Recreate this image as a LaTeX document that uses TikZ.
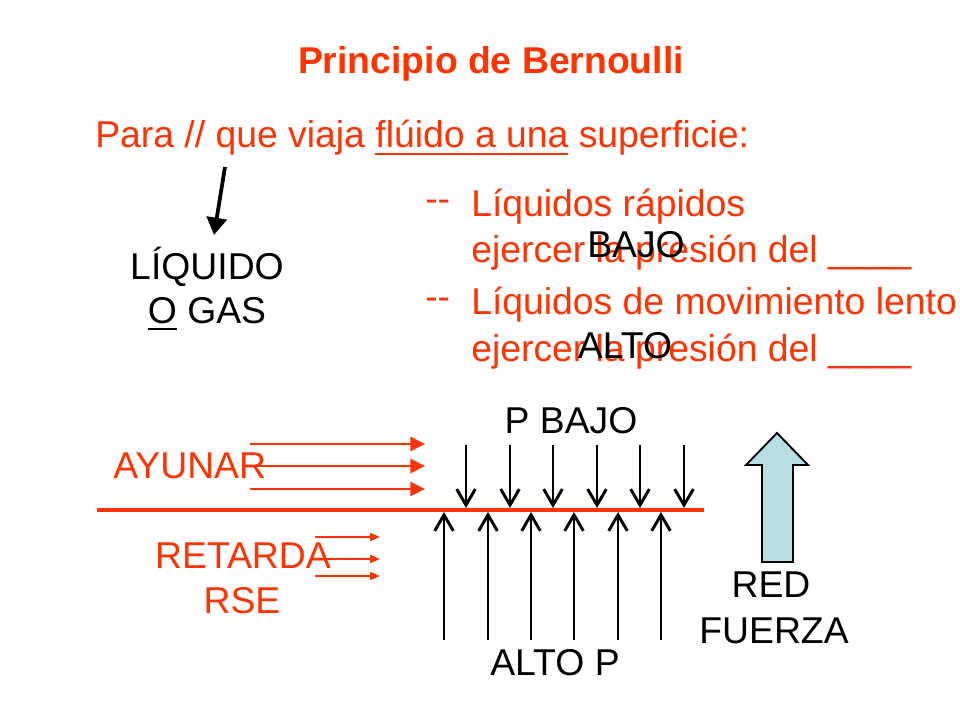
\documentclass[tikz,border=0pt]{standalone}
\usepackage{fontspec}
\setmainfont{Liberation Sans}
\usetikzlibrary{arrows.meta}
\definecolor{pptred}{RGB}{255,51,0}
\definecolor{arrowblue}{RGB}{183,222,226}
\newcommand\ulbar[1]{\setbox0\hbox{#1}\rlap{\rule[-0.2em]{\wd0}{0.07em}}#1}
\begin{document}
\begin{tikzpicture}[x=0.75pt,y=-0.75pt,
  txt/.style={inner sep=0pt, font=\fontsize{28}{33}\selectfont},
  redtxt/.style={txt, text=pptred},
  blktxt/.style={txt, text=black},
  flow/.style={draw=pptred, line width=2.1pt, -{Triangle[length=11pt,width=10.5pt,fill=pptred]}},
  smallflow/.style={draw=pptred, line width=1.4pt, -{Triangle[length=7.5pt,width=6pt,fill=pptred]}},
  press/.style={draw=black, line width=2.2pt, -{Straight Barb[length=12pt,width=14pt]}},
  pointer/.style={draw=black, line width=2.8pt, -{Triangle[length=13pt,width=15pt]}},
  bigarrow/.style={draw=black, line width=1.4pt, fill=arrowblue, line join=miter},
]
\useasboundingbox[fill=white] (0,0) rectangle (960,720);

% title and heading
\node[redtxt, font=\bfseries\fontsize{28}{33}\selectfont, anchor=base] (title) at (491,74) {Principio de Bernoulli};
\node[redtxt, anchor=base west] (head) at (95,148) {Para // que viaja \ulbar{flúido a una} superficie:};

% pointer arrow and liquid label
\coordinate (pstart) at (225,167);
\coordinate (pend) at (214,235);
\draw[pointer] (pstart) -- (pend);
\node[blktxt, anchor=base] (liq) at (207,280) {LÍQUIDO};
\node[blktxt, anchor=base] (gas) at (207,323) {\ulbar{O} GAS};

% bullets
\node[redtxt, anchor=base west] (d1) at (425,212) {-{}-};
\node[redtxt, anchor=base west] (l1) at (471,217) {Líquidos rápidos};
\node[redtxt, anchor=base west] (l2) at (471,263) {ejercer la presión del \_\_\_\_};
\node[redtxt, anchor=base west] (d2) at (425,310) {-{}-};
\node[redtxt, anchor=base west] (l3) at (471,315) {Líquidos de movimiento lento};
\node[redtxt, anchor=base west] (l4) at (471,361) {ejercer la presión del \_\_\_\_};
\node[blktxt, anchor=base] (bajo) at (636,258) {BAJO};
\node[blktxt, anchor=base] (alto) at (625,358) {ALTO};

% surface
\coordinate (sL) at (97,510);
\coordinate (sR) at (704,510);
\draw[draw=pptred, line width=3.4pt] (sL) -- (sR);

% fast flow
\node[redtxt, anchor=base west] (ayunar) at (113,478) {AYUNAR};
\foreach \i/\y in {1/444,2/466,3/489}{
  \coordinate (fa\i) at (250,\y);
  \coordinate (fb\i) at (425,\y);
  \draw[flow] (fa\i) -- (fb\i);
}
% slow flow
\node[redtxt, anchor=base] (ret) at (243,568) {RETARDA};
\node[redtxt, anchor=base] (rse) at (242,613) {RSE};
\foreach \i/\y in {1/537,2/559,3/576}{
  \coordinate (sa\i) at (315,\y);
  \coordinate (sb\i) at (380,\y);
  \draw[smallflow] (sa\i) -- (sb\i);
}

% pressure arrows
\node[blktxt, anchor=base] (pbajo) at (571,433) {P BAJO};
\foreach \i/\x in {1/466,2/510,3/553,4/597,5/640,6/684}{
  \coordinate (da\i) at (\x,445);
  \coordinate (db\i) at (\x,508);
  \draw[press] (da\i) -- (db\i);
}
\node[blktxt, anchor=base] (altop) at (555,675) {ALTO P};
\foreach \i/\x in {1/444,2/488,3/531,4/574,5/618,6/661}{
  \coordinate (ua\i) at (\x,640);
  \coordinate (ub\i) at (\x,512);
  \draw[press] (ua\i) -- (ub\i);
}

% net force
\draw[bigarrow] (777,433) -- (808,465) -- (793,465) -- (793,562) -- (762,562) -- (762,465) -- (746,465) -- cycle;
\node[blktxt, anchor=base] (red) at (771,597) {RED};
\node[blktxt, anchor=base] (fuerza) at (774,643) {FUERZA};
\end{tikzpicture}
\end{document}
